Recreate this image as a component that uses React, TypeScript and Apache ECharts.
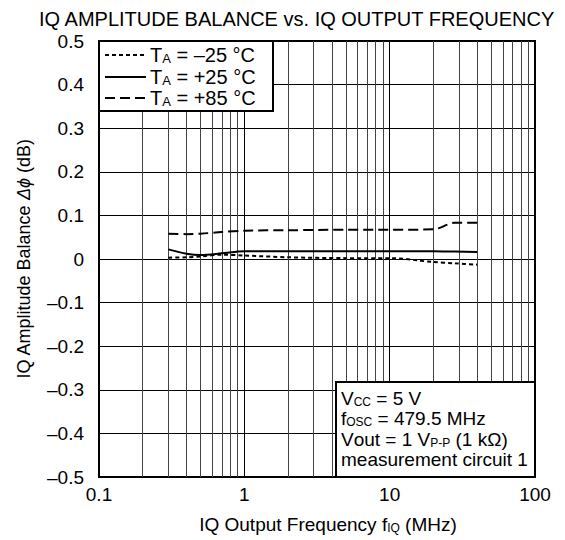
import React, { useEffect, useRef } from "react";
import * as echarts from "echarts";

const FONT = '"Liberation Sans", Arial, sans-serif';

const freqMHz = [0.3, 0.4, 0.5, 0.7, 1, 2, 5, 10, 20, 28, 40];
const balanceM25 = [0.003, 0.004, 0.006, 0.01, 0.008, 0.004, 0.002, 0.002, -0.007, -0.01, -0.013];
const balanceP25 = [0.022, 0.012, 0.009, 0.013, 0.018, 0.018, 0.018, 0.018, 0.018, 0.017, 0.016];
const balanceP85 = [0.058, 0.057, 0.058, 0.062, 0.065, 0.066, 0.067, 0.067, 0.068, 0.083, 0.083];

const xTickLabels = ["0.1", "1", "10", "100"];
const minorFreq = [0.2, 0.3, 0.4, 0.5, 0.6, 0.7, 0.8, 0.9, 2, 3, 4, 5, 6, 7, 8, 9, 20, 30, 40, 50, 60, 70, 80, 90];

const legendNames = ["–25", "+25", "+85"];

function fmtY(v: number): string {
  const r = Math.round(v * 10) / 10;
  if (r === 0) return "0";
  const s = Math.abs(r).toFixed(1);
  return r < 0 ? "–" + s : s;
}

const pairs = (ys: number[]) => freqMHz.map((f, i) => [f, ys[i]]);

export default function App() {
  const ref = useRef<HTMLDivElement>(null);
  useEffect(() => {
    if (!ref.current) return;
    const chart = echarts.init(ref.current, null, { renderer: "svg" });
    const FS = 19;
    const textBase = { fontFamily: FONT, fontSize: FS, color: "#000" };
    const sub = { fontFamily: FONT, fontSize: 12, color: "#000", verticalAlign: "bottom", padding: [7, 0, 0, 0] };
    const reg = { fontFamily: FONT, fontSize: FS, color: "#000" };
    const legReg = { fontFamily: FONT, fontSize: 20, color: "#000" };
    const legSub = { fontFamily: FONT, fontSize: 13, color: "#000", verticalAlign: "bottom", padding: [7, 0, 0, 0] };
    const lineStyles: any[] = [
      { type: [4, 3], width: 2 },
      { type: "solid", width: 2 },
      { type: [10, 5], width: 2 },
    ];
    const legendY = [55, 77, 98];
    const legendGraphics: any[] = [
      {
        type: "rect",
        shape: { x: 99, y: 41, width: 174, height: 70 },
        style: { fill: "#fff", stroke: "#000", lineWidth: 2 },
        z: 100,
      },
    ];
    legendNames.forEach((n, i) => {
      legendGraphics.push({
        type: "line",
        shape: { x1: 105, y1: legendY[i], x2: 146, y2: legendY[i] },
        style: { stroke: "#000", lineWidth: 2, lineDash: lineStyles[i].type === "solid" ? null : lineStyles[i].type },
        z: 101,
      });
      legendGraphics.push({
        type: "text",
        x: 150,
        y: legendY[i],
        style: {
          text: `{a|T}{s|A}{a| = ${n} °C}`,
          verticalAlign: "middle",
          rich: { a: legReg, s: legSub },
        },
        z: 101,
      });
    });
    const annoLines = [
      "{a|V}{s|CC}{a| = 5 V}",
      "{a|f}{s|OSC}{a| = 479.5 MHz}",
      "{a|V}{b|out}{a| = 1 V}{s|P-P}{a| (1 kΩ)}",
      "{a|measurement circuit 1}",
    ];
    const annoGraphics: any[] = [
      {
        type: "rect",
        shape: { x: 336, y: 382, width: 199, height: 95 },
        style: { fill: "#fff", stroke: "#000", lineWidth: 2 },
        z: 100,
      },
    ];
    annoLines.forEach((t, i) => {
      annoGraphics.push({
        type: "text",
        x: 341,
        y: 398 + i * 20.5,
        style: {
          text: t,
          verticalAlign: "middle",
          rich: { a: reg, s: sub, b: reg },
        },
        z: 101,
      });
    });

    chart.setOption({
      animation: false,
      textStyle: { fontFamily: FONT },
      title: {
        text: "IQ AMPLITUDE BALANCE vs. IQ OUTPUT FREQUENCY",
        left: 34,
        top: 4,
        textStyle: { fontFamily: FONT, fontSize: 20, fontWeight: "normal", color: "#000" },
      },
      grid: {
        left: 99,
        top: 41,
        right: 30,
        bottom: 63,
        show: true,
        borderColor: "#000",
        borderWidth: 2,
        backgroundColor: "#fff",
      },
      xAxis: {
        type: "log",
        logBase: 10,
        min: 0.1,
        max: 100,
        axisLine: { show: false },
        axisTick: { show: false },
        axisLabel: {
          ...textBase,
          margin: 8,
          formatter: (v: number) => {
            const k = Math.round(Math.log10(v)) + 1;
            return xTickLabels[k] ?? "";
          },
        },
        splitLine: { show: true, lineStyle: { color: "#000", width: 1 } },
        name: "{a|IQ Output Frequency f}{s|IQ}{a| (MHz)}",
        nameLocation: "middle",
        nameGap: 38,
        nameTextStyle: { rich: { a: reg, s: sub }, padding: [0, 0, 0, 22] },
      },
      yAxis: {
        type: "value",
        min: -0.5,
        max: 0.5,
        interval: 0.1,
        axisLine: { show: false },
        axisTick: { show: false },
        axisLabel: { ...textBase, margin: 15, formatter: fmtY },
        splitLine: { show: true, lineStyle: { color: "#000", width: 1 } },
        name: "{a|IQ Amplitude Balance }{i|Δϕ}{a| (dB)}",
        nameLocation: "middle",
        nameGap: 66,
        nameTextStyle: { rich: { a: { ...reg, fontSize: 18 }, i: { ...reg, fontSize: 18, fontStyle: "italic" } } },
      },
      series: [
        {
          type: "line",
          data: [],
          silent: true,
          markLine: {
            silent: true,
            symbol: "none",
            label: { show: false },
            lineStyle: { color: "#444", width: 1, type: "solid" },
            data: minorFreq.map((f) => ({ xAxis: f })),
          },
        },
        ...[balanceM25, balanceP25, balanceP85].map((ys, i) => ({
          type: "line",
          name: legendNames[i],
          data: pairs(ys),
          smooth: 0.3,
          showSymbol: false,
          symbol: "none",
          lineStyle: { color: "#000", ...lineStyles[i] },
          z: 5,
        })),
      ],
      graphic: [...legendGraphics, ...annoGraphics],
    });
    return () => chart.dispose();
  }, []);
  return <div ref={ref} style={{ position: "absolute", left: 0, top: 0, width: 565, height: 540 }} />;
}
